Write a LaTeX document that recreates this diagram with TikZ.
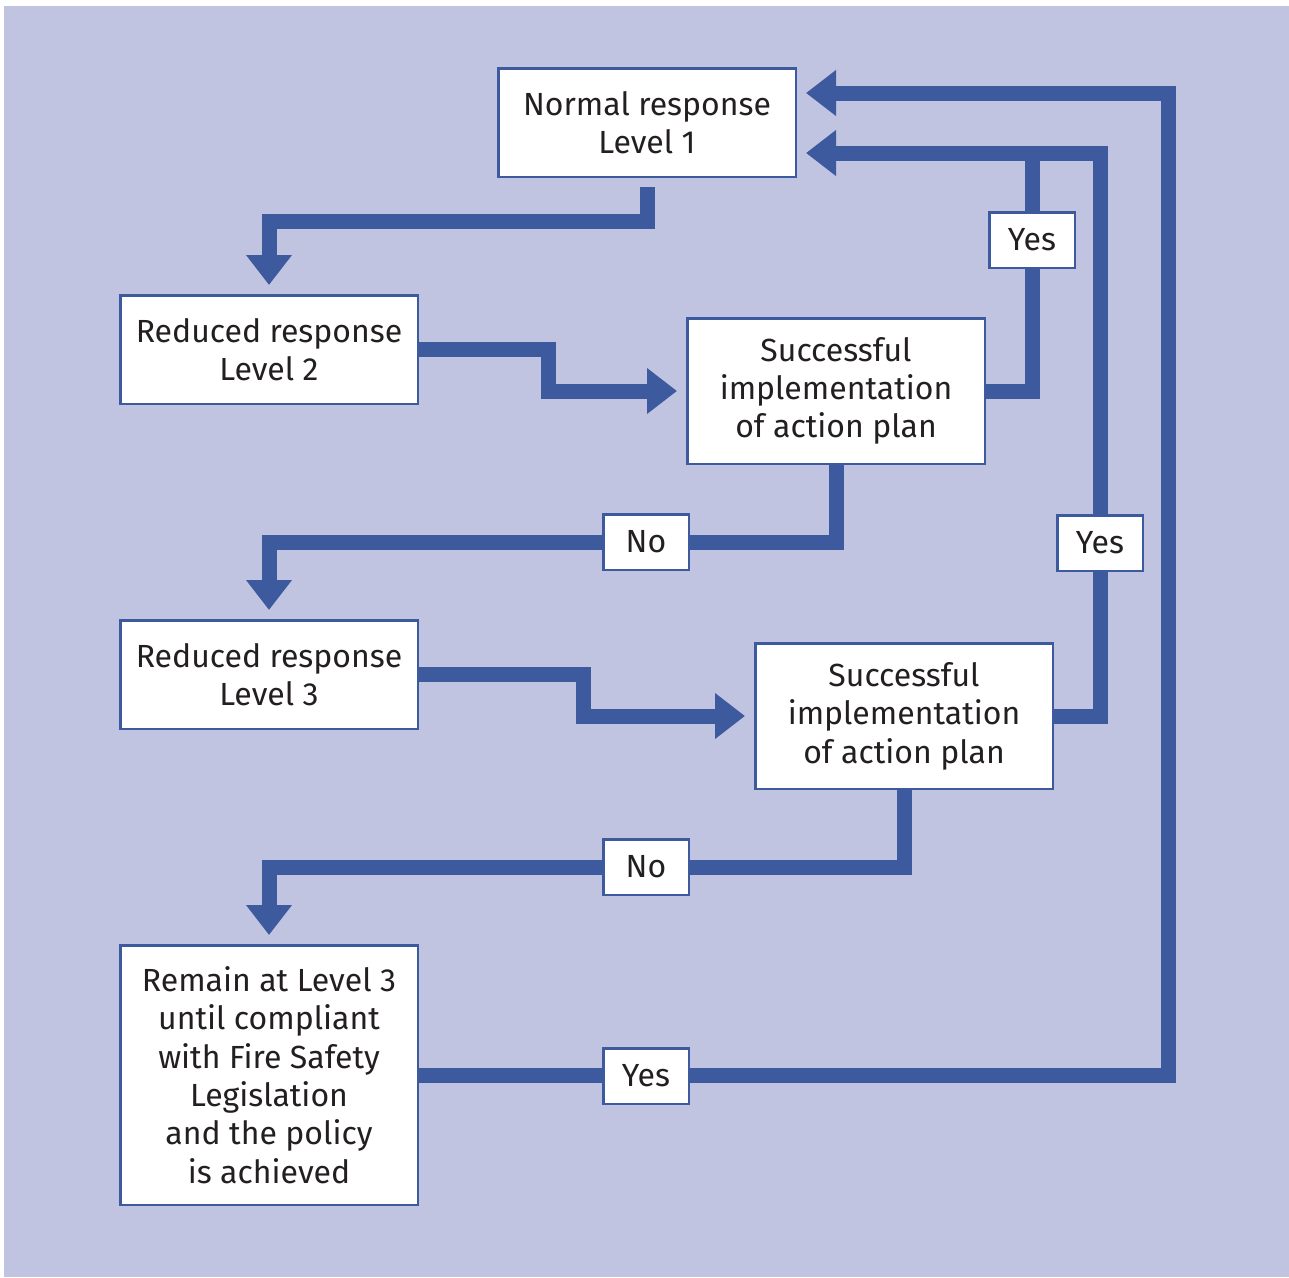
\documentclass[tikz,border=0pt]{standalone}
\usepackage{fontspec}
\setmainfont{Fira Sans}
\usetikzlibrary{arrows.meta,calc,backgrounds}
\definecolor{bgc}{HTML}{C1C4E0}
\definecolor{lnc}{HTML}{3C5A9D}
\definecolor{txc}{HTML}{231F20}
\pgfdeclarelayer{bg}
\pgfdeclarelayer{lines}
\pgfsetlayers{bg,lines,main}
\tikzset{
  box/.style={draw=lnc, line width=2.5pt, fill=white, minimum width=297.5pt, align=center,
    text=txc, font=\fontsize{32}{38.4}\selectfont, inner sep=0pt},
  lbl/.style={draw=lnc, line width=2.5pt, fill=white, minimum width=85.5pt, minimum height=55.5pt,
    text=txc, font=\fontsize{32}{38.4}\selectfont, inner sep=0pt},
  conn/.style={draw=lnc, line width=15pt, line join=miter},
  arr/.style={conn, -{Triangle[width=44pt,length=30pt]}}
}
\begin{document}
\begin{tikzpicture}[x=1pt,y=-1pt]
\useasboundingbox (0,0) rectangle (1289,1277);
\begin{pgfonlayer}{bg}
\fill[bgc] (4,6) rectangle (1289,1277);
\end{pgfonlayer}
\node[box, minimum height=108.5pt] (n1) at (647,122.5) {Normal response\\Level 1};
\node[box, minimum height=108.5pt] (n2) at (269,349.5) {Reduced response\\Level 2};
\node[box, minimum height=145.5pt] (n3) at (836,391) {Successful\\implementation\\of action plan};
\node[box, minimum height=108.5pt] (n4) at (269,674.5) {Reduced response\\Level 3};
\node[box, minimum height=145.5pt] (n5) at (904,716) {Successful\\implementation\\of action plan};
\node[box, minimum height=259.5pt] (n6) at (269,1075) {Remain at Level 3\\until compliant\\with Fire Safety\\Legislation\\and the policy\\is achieved};
\node[lbl] (y1) at (1032,240) {Yes};
\node[lbl] (no1) at (646,542) {No};
\node[lbl] (y2) at (1100,543) {Yes};
\node[lbl] (no2) at (646,867) {No};
\node[lbl] (y3) at (646,1076) {Yes};
\coordinate (j1) at (1100,153);
\coordinate (j2) at (1168,93);
\begin{pgfonlayer}{lines}
\draw[arr] ($(n1.south)+(0,9)$) -- ++(0,34) -| ($(n2.north)+(0,-9)$);
\draw[arr] (n2.east) -- ++(129,0) |- ($(n3.west)+(-9,0)$);
\draw[conn] (n3.east) -| (y1.center) -- (y1 |- j1);
\draw[arr] (n5.east) -| (j1) -- ($(n1.east |- j1)+(9,0)$);
\draw[arr] (n6.east) -| (j2) -- ($(n1.east |- j2)+(9,0)$);
\draw[arr] (n3.south) |- (no1.center) -| ($(n4.north)+(0,-9)$);
\draw[arr] (n4.east) -- ++(164,0) |- ($(n5.west)+(-9,0)$);
\draw[arr] (n5.south) |- (no2.center) -| ($(n6.north)+(0,-9)$);
\end{pgfonlayer}
\end{tikzpicture}
\end{document}
